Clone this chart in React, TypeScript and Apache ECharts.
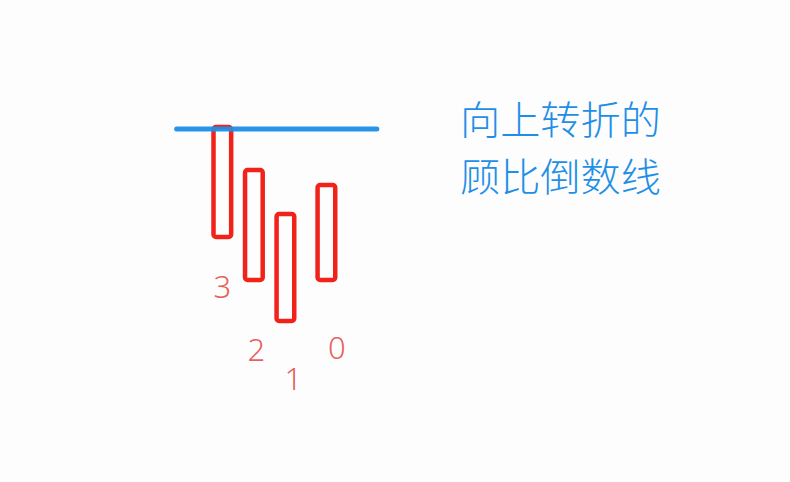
// 顾比倒数线示意：四根空心阳线 + 向上转折的倒数线
import * as React from "react";
import * as echarts from "echarts";

// 蜡烛的横向位置（单位：根），倒数序号
const CANDLE_X = [0, 1, 2, 3.3];
const CANDLE_LOW = [10.45, 10.02, 9.61, 10.02];
const CANDLE_HIGH = [11.55, 11.12, 10.68, 10.97];

// 倒数线水平位置和两端
const LINE_LEVEL = 11.53;
const LINE_X = [-1.45, 4.9];

// 倒数数字标签
const COUNT_LABELS = ["3", "2", "1", "0"];
const LABEL_X = [0, 1.08, 2.25, 3.63];
const LABEL_Y = [9.96, 9.33, 9.04, 9.35];

const TITLE_LINES = ["向上转折的", "顾比倒数线"];

const RED = "#f1221a";
const LABEL_RED = "#e2372f";
const BLUE = "#1f8fe6";

export default function App() {
  const ref = React.useRef<HTMLDivElement | null>(null);

  React.useEffect(() => {
    if (!ref.current) return;
    const chart = echarts.init(ref.current, undefined, { renderer: "svg" });

    const candles = CANDLE_X.map((x, i) => [x, CANDLE_LOW[i], CANDLE_HIGH[i]]);
    const labels = LABEL_X.map((x, i) => [x, LABEL_Y[i], COUNT_LABELS[i]]);

    chart.setOption({
      animation: false,
      backgroundColor: "#fdfdfd",
      grid: { left: 0, right: 0, top: 0, bottom: 0 },
      xAxis: { type: "value", min: -7.05, max: 18, show: false, splitLine: { show: false } },
      yAxis: { type: "value", min: 8, max: 12.82, show: false, splitLine: { show: false } },
      series: [
        {
          type: "custom",
          data: candles,
          z: 2,
          renderItem: (_params: unknown, api: any) => {
            const x = api.value(0);
            const top = api.coord([x, api.value(2)]);
            const bottom = api.coord([x, api.value(1)]);
            const w = api.size([0.56, 0])[0];
            return {
              type: "rect",
              shape: { x: top[0] - w / 2, y: top[1], width: w, height: bottom[1] - top[1], r: 2.5 },
              style: { fill: "#fdfdfd", stroke: RED, lineWidth: 4.5 },
            };
          },
        },
        {
          type: "line",
          data: LINE_X.map((x) => [x, LINE_LEVEL]),
          symbol: "none",
          z: 3,
          lineStyle: { color: BLUE, width: 5, cap: "round", opacity: 0.95 },
        },
        {
          type: "scatter",
          data: labels,
          symbolSize: 0,
          label: {
            show: true,
            position: "inside",
            formatter: (p: any) => p.value[2],
            color: LABEL_RED,
            fontSize: 31,
            fontWeight: 300,
            fontFamily: "Noto Sans, sans-serif",
          },
        },
      ],
      graphic: [
        {
          type: "text",
          x: 460,
          y: 88.5,
          scaleX: 1.03,
          style: {
            text: TITLE_LINES.join("\n"),
            fill: BLUE,
            fontSize: 39,
            lineHeight: 57,
            fontWeight: 300,
            fontFamily: "Noto Sans CJK SC, sans-serif",
            textVerticalAlign: "top",
          },
        },
      ],
    });

    return () => chart.dispose();
  }, []);

  return (
    <div
      ref={ref}
      style={{ position: "absolute", left: 0, top: 0, width: 790, height: 482 }}
      role="img"
      aria-label="向上转折的顾比倒数线"
    />
  );
}
